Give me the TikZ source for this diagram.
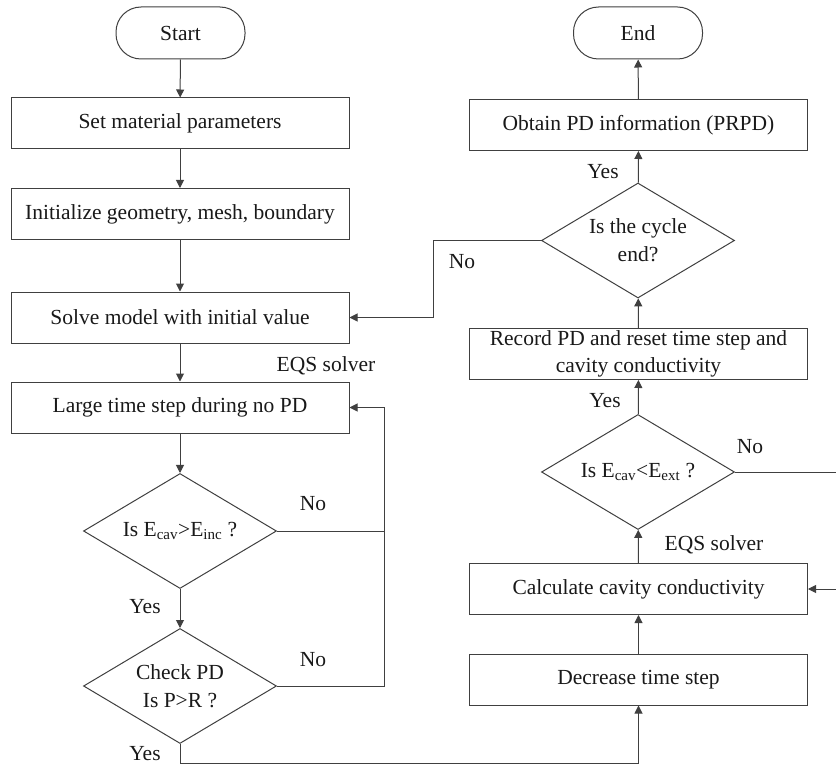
\documentclass[tikz,border=0pt]{standalone}
\usepackage{fontspec}
\setmainfont{Liberation Serif}
\usetikzlibrary{arrows.meta,shapes.geometric}
\begin{document}
\begin{tikzpicture}[x=1pt,y=-1pt,
  font=\fontsize{21.5}{24}\selectfont,
  every node/.style={text=black!90},
  line/.style={draw=black!75,line width=1pt},
  arr/.style={line,-{Triangle[length=8pt,width=8pt]}},
  procbox/.style={line,fill=white,minimum width=338pt,minimum height=51pt,inner sep=0pt,align=center},
  term/.style={line,fill=white,rounded corners=25pt,minimum width=129pt,minimum height=52pt,inner sep=0pt},
  decide/.style={line,fill=white,shape=diamond,aspect=1.68,minimum width=193pt,minimum height=115pt,inner sep=0pt,align=center},
  lbl/.style={inner sep=0pt}]
\useasboundingbox (0,0) rectangle (836,765);

% left column
\node[term] (start) at (180.5,33) {Start};
\node[procbox] (setp) at (180,123.5) {Set material parameters};
\node[procbox] (init) at (180,214) {Initialize geometry, mesh, boundary};
\node[procbox] (solve) at (180,317.5) {Solve model with initial value};
\node[procbox] (large) at (180,407.5) {Large time step during no PD};
\node[decide] (d1) at (180,531) {Is E\textsubscript{cav}>E\textsubscript{inc} ?};
\node[decide] (d2) at (180,686) {Check PD\\[4pt]Is P>R ?};

% right column
\node[term] (stop) at (638,33) {End};
\node[procbox] (obtain) at (638.5,125) {Obtain PD information (PRPD)};
\node[decide] (d4) at (638,240.5) {Is the cycle\\[4pt]end?};
\node[procbox] (record) at (638.5,354) {Record PD and reset time step and\\[3pt]cavity conductivity};
\node[decide] (d3) at (638,472) {Is E\textsubscript{cav}<E\textsubscript{ext} ?};
\node[procbox] (calc) at (638.5,589) {Calculate cavity conductivity};
\node[procbox] (decr) at (638.5,679.5) {Decrease time step};

% routing points
\coordinate (loopL) at (384,407.5);
\coordinate (loopC) at (433,240.5);
\coordinate (loopR) at (840,472);
\coordinate (bottom) at (180,763);

% main flow, left column
\draw[arr] (start) -- (setp);
\draw[arr] (setp) -- (init);
\draw[arr] (init) -- (solve);
\draw[arr] (solve) -- (large);
\draw[arr] (large) -- (d1);
\draw[arr] (d1) -- (d2);
\draw[line] (d1.east) -- (d1.east -| loopL);
\draw[arr] (d2.east) -| (loopL) -- (large.east);
\draw[arr] (d2.south) -- (bottom) -| (decr.south);

% main flow, right column
\draw[arr] (decr) -- (calc);
\draw[arr] (calc) -- (d3);
\draw[arr] (d3) -- (record);
\draw[arr] (record) -- (d4);
\draw[arr] (d4) -- (obtain);
\draw[arr] (obtain) -- (stop);
\draw[arr] (d3.east) -- (loopR) |- (calc.east);
\draw[arr] (d4.west) -- (loopC) |- (solve.east);

% branch labels
\node[lbl] at (313,504) {No};
\node[lbl] at (313,660) {No};
\node[lbl] at (145,607) {Yes};
\node[lbl] at (145,754) {Yes};
\node[lbl] at (326,366) {EQS solver};
\node[lbl] at (603,172) {Yes};
\node[lbl] at (462,262) {No};
\node[lbl] at (605,401) {Yes};
\node[lbl] at (750,447) {No};
\node[lbl] at (714,545) {EQS solver};
\end{tikzpicture}
\end{document}
